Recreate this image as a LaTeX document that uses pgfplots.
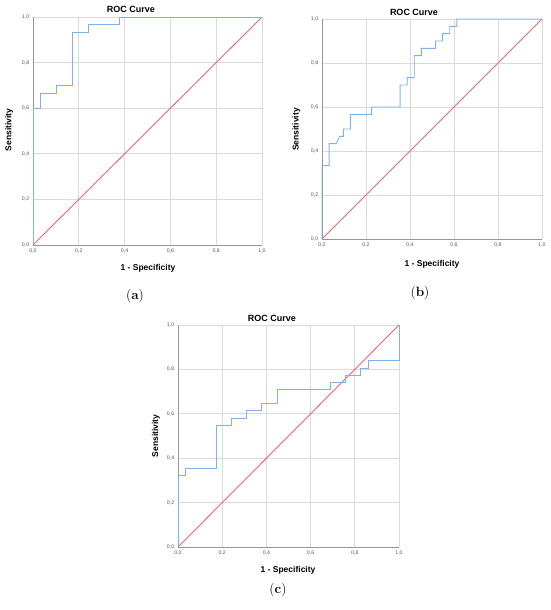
\documentclass[border=0pt]{standalone}
\usepackage{pgfplots}
\pgfplotsset{compat=1.18}
\usepackage{fontspec}
\newfontfamily\arial{Liberation Sans}
\definecolor{roc}{RGB}{128,178,232}
\definecolor{diag}{RGB}{236,100,122}
\definecolor{gridc}{RGB}{218,218,218}
\definecolor{axc}{RGB}{150,150,150}
\definecolor{tickc}{RGB}{85,85,85}
\pgfplotsset{
  rocaxis/.style={
    scale only axis,
    xmin=0, xmax=1, ymin=0, ymax=1,
    xtick={0,0.2,0.4,0.6,0.8,1}, ytick={0,0.2,0.4,0.6,0.8,1},
    grid=major,
    major grid style={gridc, line width=0.8pt},
    axis line style={draw=none},
    extra x ticks={0}, extra y ticks={0},
    extra x tick labels={}, extra y tick labels={},
    extra tick style={grid=major, major grid style={axc, line width=0.8pt}},
    major tick length=0pt,
    tick style={draw=none},
    /pgf/number format/.cd, use comma, fixed, fixed zerofill, precision=1, assume math mode=true,
    /pgfplots/.cd,
    ticklabel style={font=\arial\fontsize{5.2}{6}\selectfont, text=tickc},
    xticklabel style={yshift=-0.5pt},
    yticklabel style={xshift=-0.3pt},
    every axis plot/.append style={line width=0.9pt},
    clip=false,
  }
}
\begin{document}
\begin{tikzpicture}
\path[use as bounding box] (0,0) rectangle (550pt,-610pt);
% ---------- (a)
\begin{axis}[rocaxis, at={(33pt,-245pt)}, anchor=south west, width=229pt, height=228pt]
\addplot[diag] coordinates {(0,0) (1,1)};
\addplot[roc] coordinates {
(0,0) (0,0.6) (0.0345,0.6) (0.0345,0.6667) (0.1034,0.6667) (0.1034,0.7)
(0.1724,0.7) (0.1724,0.9333) (0.2414,0.9333) (0.2414,0.9667) (0.3793,0.9667)
(0.3793,1) (1,1)};
\end{axis}
\node[font=\arial\bfseries\fontsize{9}{10}\selectfont] at (131pt,-9.5pt) {ROC Curve};
\node[font=\arial\bfseries\fontsize{8.5}{10}\selectfont, anchor=base] at (148pt,-270.7pt) {1 - Specificity};
\node[font=\arial\bfseries\fontsize{8.5}{10}\selectfont, anchor=base, rotate=90] at (11.5pt,-130pt) {Sensitivity};
\node[font=\fontsize{13.5}{15}\selectfont] at (135pt,-296pt) {(\textbf{a})};
% ---------- (b)
\begin{axis}[rocaxis, at={(322pt,-239pt)}, anchor=south west, width=220pt, height=220pt]
\addplot[diag] coordinates {(0,0) (1,1)};
\addplot[roc] coordinates {
(0,0) (0,0.3333) (0.0323,0.3333) (0.0323,0.4333) (0.0645,0.4333) (0.0806,0.4667)
(0.0968,0.4667) (0.0968,0.5) (0.129,0.5) (0.129,0.5667) (0.2258,0.5667)
(0.2258,0.6) (0.3548,0.6) (0.3548,0.7) (0.3871,0.7) (0.3871,0.7333)
(0.4194,0.7333) (0.4194,0.8333) (0.4516,0.8333) (0.4516,0.8667) (0.5161,0.8667)
(0.5161,0.9) (0.5484,0.9) (0.5484,0.9333) (0.5806,0.9333) (0.5806,0.9667)
(0.6129,0.9667) (0.6129,1) (1,1)};
\end{axis}
\node[font=\arial\bfseries\fontsize{9}{10}\selectfont] at (414pt,-12pt) {ROC Curve};
\node[font=\arial\bfseries\fontsize{8.5}{10}\selectfont, anchor=base] at (432pt,-266.5pt) {1 - Specificity};
\node[font=\arial\bfseries\fontsize{8.5}{10}\selectfont, anchor=base, rotate=90] at (298.6pt,-129.5pt) {Sensitivity};
\node[font=\fontsize{13.5}{15}\selectfont] at (420pt,-293.5pt) {(\textbf{b})};
% ---------- (c)
\begin{axis}[rocaxis, at={(178pt,-547pt)}, anchor=south west, width=221pt, height=222pt]
\addplot[diag] coordinates {(0,0) (1,1)};
\addplot[roc] coordinates {
(0,0) (0,0.3226) (0.0345,0.3226) (0.0345,0.3548) (0.1724,0.3548) (0.1724,0.5484)
(0.2414,0.5484) (0.2414,0.5806) (0.3103,0.5806) (0.3103,0.6129) (0.3793,0.6129)
(0.3793,0.6452) (0.4483,0.6452) (0.4483,0.7097) (0.6897,0.7097) (0.6897,0.7419)
(0.7586,0.7419) (0.7586,0.7742) (0.8276,0.7742) (0.8276,0.8065) (0.8621,0.8065)
(0.8621,0.8387) (1,0.8387) (1,1)};
\end{axis}
\node[font=\arial\bfseries\fontsize{9}{10}\selectfont] at (272pt,-318pt) {ROC Curve};
\node[font=\arial\bfseries\fontsize{8.5}{10}\selectfont, anchor=base] at (288pt,-572.5pt) {1 - Specificity};
\node[font=\arial\bfseries\fontsize{8.5}{10}\selectfont, anchor=base, rotate=90] at (158pt,-436pt) {Sensitivity};
\node[font=\fontsize{13.5}{15}\selectfont] at (278pt,-589.7pt) {(\textbf{c})};
\end{tikzpicture}
\end{document}
